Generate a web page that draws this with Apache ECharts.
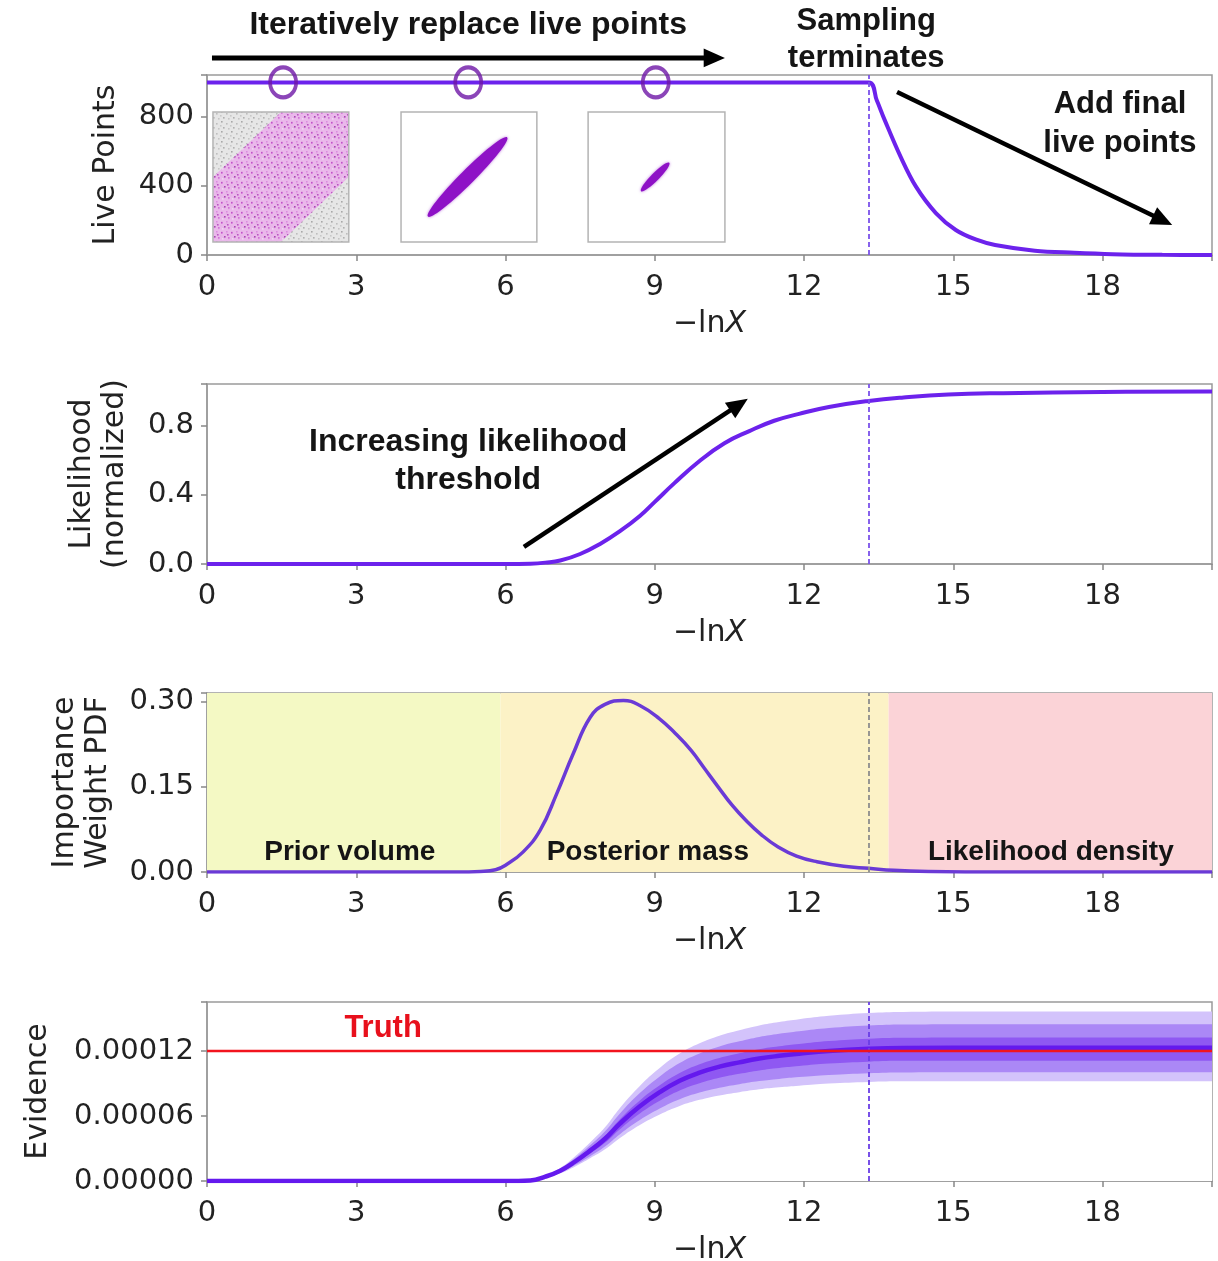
<!DOCTYPE html>
<html>
<head>
<meta charset="utf-8">
<script src="https://cdn.jsdelivr.net/npm/echarts@6/dist/echarts.min.js"></script>
<style>
  html, body { margin: 0; padding: 0; background: #ffffff; }
  #chart { width: 1218px; height: 1261px; }
</style>
</head>
<body>
<div id="chart"></div>
<script>
// ---- Data -------------------------------------------------------------
// Panel 1: number of live points vs −lnX
const liveX = [0, 13.3, 13.46, 13.62, 13.94, 14.25, 14.65, 15.05, 15.45, 15.84, 16.64, 17.43, 18.2, 19.2, 20.2];
const liveN = [1000, 1000, 898, 783, 570, 396, 243, 145, 90, 58, 25, 13, 5, 1, 0];
// snapshots of the live-point cloud marked on the curve
const snapX = [1.53, 5.25, 9.02];
const snapN = [1000, 1000, 1000];

// Panel 2: normalised likelihood threshold
const likeX = [0, 6, 6.5, 6.8, 7.1, 7.5, 7.9, 8.3, 8.7, 9.0, 9.4, 9.9, 10.4, 10.9, 11.4, 11.9, 12.5, 13.3, 14.0, 14.9, 16, 18, 20.2];
const likeY = [0, 0, 0.002, 0.008, 0.02, 0.058, 0.116, 0.19, 0.278, 0.36, 0.47, 0.597, 0.7, 0.77, 0.83, 0.87, 0.91, 0.945, 0.965, 0.982, 0.99, 0.997, 0.999];

// Panel 3: importance weight PDF
const pdfX = [0, 5, 5.5, 5.8, 6.0, 6.35, 6.7, 7.03, 7.36, 7.7, 8.0, 8.37, 8.7, 9.09, 9.4, 9.73, 10.0, 10.28, 10.55, 10.83, 11.15, 11.48, 11.85, 12.26, 12.8, 13.3, 13.8, 14.5, 16, 20.2];
const pdfY = [0, 0, 0.001, 0.004, 0.012, 0.035, 0.074, 0.138, 0.208, 0.272, 0.295, 0.302, 0.293, 0.27, 0.245, 0.214, 0.182, 0.149, 0.118, 0.091, 0.065, 0.044, 0.028, 0.018, 0.01, 0.0065, 0.003, 0.001, 0, 0];
// shaded regions
const regionNames = ['Prior volume', 'Posterior mass', 'Likelihood density'];
const regionEdges = [0, 5.9, 13.7, 20.2];

// Panel 4: evidence estimate (median) and credible-band ratios
const evX = [0, 6, 6.5, 6.8, 7.1, 7.4, 7.7, 8.0, 8.3, 8.7, 9.1, 9.5, 9.9, 10.3, 10.7, 11.1, 11.5, 11.9, 12.5, 13.3, 14, 16, 18, 20.2];
const evZ = [0, 0, 0.0000005, 0.000004, 0.0000095, 0.000018, 0.000028, 0.000039, 0.000053, 0.000069, 0.000082, 0.0000925, 0.0001, 0.0001055, 0.0001095, 0.000113, 0.0001155, 0.0001175, 0.00012, 0.000122, 0.0001228, 0.000123, 0.000123, 0.000123];
const bandLo = [0.749, 0.816, 0.903];   // outer, middle, inner lower ratios
const bandHi = [1.271, 1.177, 1.077];   // outer, middle, inner upper ratios
const truthZ = 0.00012;

// termination point of the run
const stopX = 13.3;

// ---- Styling -----------------------------------------------------------
const LINE = '#6c22ec';
const AXIS = '#9a9a9a';
const TXT = '#222222';
const TICK_FONT = 'DejaVu Sans';
const ANN_FONT = '"Liberation Sans", Arial, sans-serif';
const bandColors = ['#d3c3fb', '#ab88f6', '#8f58f2'];
const SMOOTH = 0.45;

const zip = (xs, ys) => xs.map((x, i) => [x, ys[i]]);

const grids = [
  { left: 207, right: 6, top: 75, height: 180 },
  { left: 207, right: 6, top: 384, height: 180 },
  { left: 207, right: 6, top: 693, height: 179 },
  { left: 207, right: 6, top: 1002, height: 179 }
].map(g => Object.assign(g, { show: true, borderColor: AXIS, borderWidth: 1.5, backgroundColor: 'transparent', containLabel: false, outerBoundsMode: 'none' }));

function xAx(g) {
  return {
    type: 'value', gridIndex: g, min: 0, max: 20.2, interval: 3,
    name: '{n|\u2212ln}{i|X}', nameLocation: 'middle', nameGap: 54,
    nameTextStyle: {
      color: TXT,
      rich: {
        n: { fontSize: 30, fontFamily: TICK_FONT, color: TXT },
        i: { fontSize: 30, fontFamily: TICK_FONT, fontStyle: 'italic', color: TXT }
      }
    },
    axisLine: { show: true, onZero: false, lineStyle: { color: AXIS, width: 1.5 } },
    axisTick: { show: true, length: 6, lineStyle: { color: '#888', width: 1.5 } },
    axisLabel: {
      fontSize: 29, fontFamily: TICK_FONT, color: TXT, margin: 18,
      formatter: v => (Math.abs(v % 3) < 1e-9 ? String(v) : '')
    },
    splitLine: { show: false }
  };
}

function yAx(g, max, interval, name, gap, digits) {
  return {
    type: 'value', gridIndex: g, min: 0, max: max, interval: interval,
    name: name, nameLocation: 'middle', nameGap: gap, nameRotate: 90,
    nameTextStyle: { fontSize: 30, fontFamily: TICK_FONT, color: TXT, lineHeight: 33 },
    axisLine: { show: true, lineStyle: { color: AXIS, width: 1.5 } },
    axisTick: { show: true, length: 6, lineStyle: { color: '#888', width: 1.5 } },
    axisLabel: {
      fontSize: 29, fontFamily: TICK_FONT, color: TXT, margin: 13,
      formatter: v => {
        const k = v / interval;
        return Math.abs(k - Math.round(k)) < 1e-6 ? v.toFixed(digits) : '';
      }
    },
    splitLine: { show: false }
  };
}

function stopLine(color) {
  return {
    silent: true, symbol: 'none', label: { show: false },
    lineStyle: { color: color, width: 1.8, type: [5, 3] },
    data: [{ xAxis: stopX }]
  };
}

// Evidence credible bands: each boundary is filled down to zero, painted
// from the outermost upper edge inwards and then back out along the lower
// edges, so the nested shells show between consecutive boundaries.
const bandOrder = [
  { r: bandHi[0], c: bandColors[0] },
  { r: bandHi[1], c: bandColors[1] },
  { r: bandHi[2], c: bandColors[2] },
  { r: bandLo[2], c: bandColors[1] },
  { r: bandLo[1], c: bandColors[0] },
  { r: bandLo[0], c: '#ffffff' }
];
const bandSeries = bandOrder.map(b => ({
  type: 'line', xAxisIndex: 3, yAxisIndex: 3,
  data: zip(evX, evZ.map(z => z * b.r)),
  smooth: SMOOTH, symbol: 'none', silent: true,
  lineStyle: { width: 0, opacity: 0 },
  areaStyle: { color: b.c, opacity: 1, origin: 'start' },
  z: 2
}));

const markAreaData = regionNames.map((n, i) => [
  { xAxis: regionEdges[i], itemStyle: { color: ['#f4f9c4', '#fcf2c6', '#fbd3d7'][i] } },
  { xAxis: regionEdges[i + 1] }
]);

const chart = echarts.init(document.getElementById('chart'), null, { renderer: 'canvas' });

chart.setOption({
  animation: false,
  backgroundColor: '#ffffff',
  grid: grids,
  xAxis: [xAx(0), xAx(1), xAx(2), xAx(3)],
  yAxis: [
    yAx(0, 1043, 400, 'Live Points', 84, 0),
    yAx(1, 1.043, 0.4, 'Likelihood\n(normalized)', 75, 1),
    yAx(2, 0.315, 0.15, 'Importance\nWeight PDF', 92, 2),
    yAx(3, 0.0001652, 0.00006, 'Evidence', 152, 5)
  ],
  series: [
    {
      name: 'Live points', type: 'line', xAxisIndex: 0, yAxisIndex: 0,
      data: zip(liveX, liveN), smooth: 0.35, symbol: 'none',
      lineStyle: { color: LINE, width: 4 }, z: 3,
      markLine: stopLine('#7b52ea')
    },
    {
      name: 'Snapshots', type: 'scatter', xAxisIndex: 0, yAxisIndex: 0,
      data: zip(snapX, snapN), symbol: 'circle', symbolSize: [26, 30],
      itemStyle: { color: 'rgba(0,0,0,0)', borderColor: '#6e16a6', borderWidth: 4 },
      z: 5, silent: true
    },
    {
      name: 'Likelihood', type: 'line', xAxisIndex: 1, yAxisIndex: 1,
      data: zip(likeX, likeY), smooth: SMOOTH, symbol: 'none',
      lineStyle: { color: LINE, width: 4 }, z: 3,
      markLine: stopLine('#7b52ea')
    },
    {
      name: 'Importance weight', type: 'line', xAxisIndex: 2, yAxisIndex: 2,
      data: zip(pdfX, pdfY), smooth: SMOOTH, symbol: 'none',
      lineStyle: { color: '#6a3ad6', width: 3.5 }, z: 3,
      markArea: { silent: true, data: markAreaData },
      markLine: stopLine('#8d8d8d')
    }
  ].concat(bandSeries).concat([
    {
      name: 'Evidence', type: 'line', xAxisIndex: 3, yAxisIndex: 3,
      data: zip(evX, evZ), smooth: SMOOTH, symbol: 'none',
      lineStyle: { color: '#6419ee', width: 4.5 }, z: 4,
      markLine: stopLine('#6a3ee6')
    },
    {
      name: 'Truth', type: 'line', xAxisIndex: 3, yAxisIndex: 3,
      data: [[0, truthZ], [20.2, truthZ]], symbol: 'none',
      lineStyle: { color: '#f2141e', width: 2.5 }, z: 6
    }
  ])
});

// ---- Annotations (placed in data coordinates of each panel) -------------
const P = (g, x, y) => chart.convertToPixel({ gridIndex: g }, [x, y]);

function arrow(a, b, width, head) {
  const dx = b[0] - a[0], dy = b[1] - a[1];
  const L = Math.hypot(dx, dy), ux = dx / L, uy = dy / L;
  const hl = head * 1.25, hw = head * 0.55;
  const bx = b[0] - ux * hl, by = b[1] - uy * hl;
  return [
    { type: 'line', shape: { x1: a[0], y1: a[1], x2: bx + ux * 2, y2: by + uy * 2 },
      style: { stroke: '#000', lineWidth: width }, z: 20 },
    { type: 'polygon', shape: { points: [[b[0], b[1]], [bx - uy * hw, by + ux * hw], [bx + uy * hw, by - ux * hw]] },
      style: { fill: '#000' }, z: 20 }
  ];
}

function label(p, text, size, color) {
  return {
    type: 'text', x: p[0], y: p[1], z: 21,
    style: {
      text: text, fill: color || '#151515',
      font: 'bold ' + size + 'px ' + ANN_FONT,
      align: 'center', verticalAlign: 'middle'
    }
  };
}

// speckle tiles for the prior-volume inset
function tile(bg, dots) {
  const c = document.createElement('canvas');
  c.width = 10; c.height = 10;
  const g = c.getContext('2d');
  g.fillStyle = bg; g.fillRect(0, 0, 10, 10);
  dots.forEach(d => { g.fillStyle = d[2]; g.fillRect(d[0], d[1], 1.6, 1.6); });
  return c;
}
const greyTile = tile('#e6e6e6', [[1, 1, '#a8a8a8'], [6, 3, '#bdbdbd'], [3, 7, '#b0b0b0'], [8, 8, '#c4c4c4'], [0, 5, '#c8c8c8']]);
const pinkTile = tile('#eab0ec', [[1, 2, '#c23dc9'], [6, 1, '#d97ddc'], [4, 6, '#a22aad'], [8, 7, '#cf58d4'], [2, 8, '#f3d3f3'], [7, 4, '#b53fbf']]);

function inset(x0, x1, yTop, yBot, kind) {
  const tl = P(0, x0, yTop), br = P(0, x1, yBot);
  const w = br[0] - tl[0], h = br[1] - tl[1];
  const els = [];
  if (kind === 0) {
    els.push({ type: 'rect', shape: { x: tl[0], y: tl[1], width: w, height: h },
      style: { fill: { image: greyTile, repeat: 'repeat' }, stroke: 'none' }, z: 10 });
    const s = 0.5;
    const pts = [[0, 0], [s, 0], [1, 1 - s], [1, 1], [1 - s, 1], [0, s]]
      .map(q => [tl[0] + q[0] * w, br[1] - q[1] * h]);
    els.push({ type: 'polygon', shape: { points: pts },
      style: { fill: { image: pinkTile, repeat: 'repeat' }, opacity: 0.85 }, z: 11 });
  } else {
    const cx = tl[0] + w * 0.49, cy = br[1] - h * 0.5;
    const rx = kind === 1 ? 56 : 20, ry = kind === 1 ? 7 : 4;
    els.push({ type: 'rect', shape: { x: tl[0], y: tl[1], width: w, height: h },
      style: { fill: '#ffffff', stroke: 'none' }, z: 10 });
    els.push({ type: 'ellipse', x: cx, y: cy, rotation: Math.PI / 4,
      shape: { cx: 0, cy: 0, rx: rx, ry: ry },
      style: { fill: '#8e12c6', shadowBlur: 3, shadowColor: 'rgba(142,18,198,0.6)' }, z: 11 });
  }
  els.push({ type: 'rect', shape: { x: tl[0], y: tl[1], width: w, height: h },
    style: { fill: 'none', stroke: '#b4b4b4', lineWidth: 1.5 }, z: 12 });
  return els;
}

const pdfLabelX = [2.87, 8.86, 16.96];

const elements = []
  .concat(inset(0.12, 2.85, 829, 75, 0))
  .concat(inset(3.9, 6.63, 829, 75, 1))
  .concat(inset(7.66, 10.41, 829, 75, 2))
  .concat(arrow(P(0, 0.1, 1142), P(0, 10.41, 1142), 5, 17))
  .concat(arrow(P(0, 13.87, 945), P(0, 19.4, 174), 4.5, 17))
  .concat(arrow(P(1, 6.37, 0.099), P(1, 10.87, 0.957), 4.5, 17))
  .concat([
    label(P(0, 5.25, 1333), 'Iteratively replace live points', 32),
    label(P(0, 13.25, 1355), 'Sampling', 31),
    label(P(0, 13.25, 1140), 'terminates', 31),
    label(P(0, 18.35, 870), 'Add final', 31),
    label(P(0, 18.35, 649), 'live points', 31),
    label(P(1, 5.25, 0.707), 'Increasing likelihood', 32),
    label(P(1, 5.25, 0.487), 'threshold', 32),
    label(P(3, 3.54, 0.0001412), 'Truth', 31, '#e8101c')
  ])
  .concat(regionNames.map((n, i) => label(P(2, pdfLabelX[i], 0.035), n, 28)));

chart.setOption({ graphic: { elements: elements } });
</script>
</body>
</html>
